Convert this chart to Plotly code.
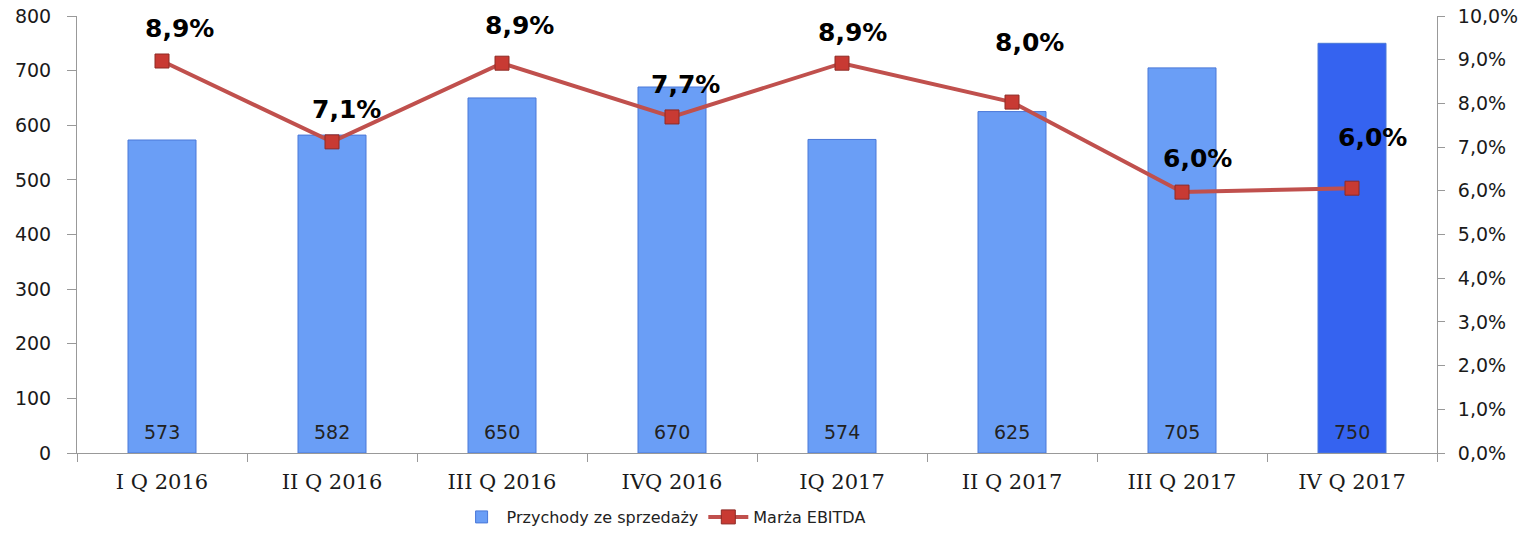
import plotly.graph_objects as go

quarters = ['I Q 2016', 'II Q 2016', 'III Q 2016', 'IVQ 2016',
            'IQ 2017', 'II Q 2017', 'III Q 2017', 'IV Q 2017']
revenue = [573, 582, 650, 670, 574, 625, 705, 750]
ebitda_margin = [8.97, 7.12, 8.92, 7.69, 8.92, 8.03, 5.97, 6.06]
margin_labels = ['8,9%', '7,1%', '8,9%', '7,7%', '8,9%', '8,0%', '6,0%', '6,0%']

bar_colors = ['#6a9ef6'] * 7 + ['#3563f0']
# label offsets (px) relative to each marker, as in the source chart
label_xshift = [17, 14, 17, 13, 10, 17, 15, 20]
label_yshift = [33, 32, 38, 32, 31, 60, 34, 51]

fig = go.Figure()

fig.add_trace(go.Bar(
    x=quarters,
    y=revenue,
    name='Przychody ze sprzedaży',
    marker=dict(color=bar_colors, line=dict(color='#4a78d8', width=1)),
    width=0.4,
    hovertemplate='%{x}: %{y}<extra></extra>'
))

fig.add_trace(go.Scatter(
    x=quarters,
    y=ebitda_margin,
    name='Marża EBITDA',
    yaxis='y2',
    mode='lines+markers',
    line=dict(color='#c0504d', width=4),
    marker=dict(symbol='square', size=14, color='#c83a33',
                line=dict(color='#8e2a25', width=1)),
    hovertemplate='%{x}: %{y:.1f}%<extra></extra>'
))

# revenue values near the bottom of each bar
for q, v in zip(quarters, revenue):
    fig.add_annotation(
        x=q, y=0, yref='y', text=str(v), showarrow=False,
        yanchor='bottom', yshift=8,
        font=dict(family='DejaVu Sans', size=19, color='#222222')
    )

# EBITDA margin labels
for q, m, lab, xs, ys in zip(quarters, ebitda_margin, margin_labels,
                             label_xshift, label_yshift):
    fig.add_annotation(
        x=q, y=m, yref='y2', text=lab, showarrow=False,
        xshift=xs, yshift=ys,
        font=dict(family='DejaVu Sans', size=25, color='#000000', weight='bold')
    )

fig.update_layout(
    width=1522,
    height=533,
    margin=dict(l=77, r=85, t=16, b=80),
    plot_bgcolor='white',
    paper_bgcolor='white',
    separators=', ',
    bargap=0.6,
    showlegend=True,
    legend=dict(
        orientation='h',
        xref='container', yref='container',
        x=0.436, xanchor='center',
        y=0.03, yanchor='middle',
        font=dict(family='DejaVu Sans', size=16, color='#222222'),
        itemwidth=40,
        tracegroupgap=0
    ),
    xaxis=dict(
        automargin=False,
        showline=True, linecolor='#999999', linewidth=1,
        ticks='outside', tickson='boundaries', ticklen=8, tickcolor='#999999',
        ticklabelstandoff=10,
        tickfont=dict(family='DejaVu Serif', size=21, color='#1a1a1a'),
        showgrid=False
    ),
    yaxis=dict(
        automargin=False,
        range=[0, 800], dtick=100,
        showline=True, linecolor='#999999', linewidth=1,
        ticks='outside', ticklen=9, tickcolor='#999999',
        ticklabelstandoff=12, ticklabeloverflow='allow',
        tickfont=dict(family='DejaVu Sans', size=19, color='#1a1a1a'),
        showgrid=False, zeroline=False
    ),
    yaxis2=dict(
        automargin=False,
        range=[0, 10], dtick=1, overlaying='y', side='right',
        tickformat='.1f', ticksuffix='%',
        showline=True, linecolor='#999999', linewidth=1,
        ticks='outside', ticklen=7, tickcolor='#999999',
        ticklabelstandoff=9, ticklabeloverflow='allow',
        tickfont=dict(family='DejaVu Sans', size=19, color='#1a1a1a'),
        showgrid=False, zeroline=False
    )
)

# drop the default page margin so the figure sits at the window corner
fig.write_html('out.html', config={'displayModeBar': False},
               post_script="document.body.style.margin='0';")
